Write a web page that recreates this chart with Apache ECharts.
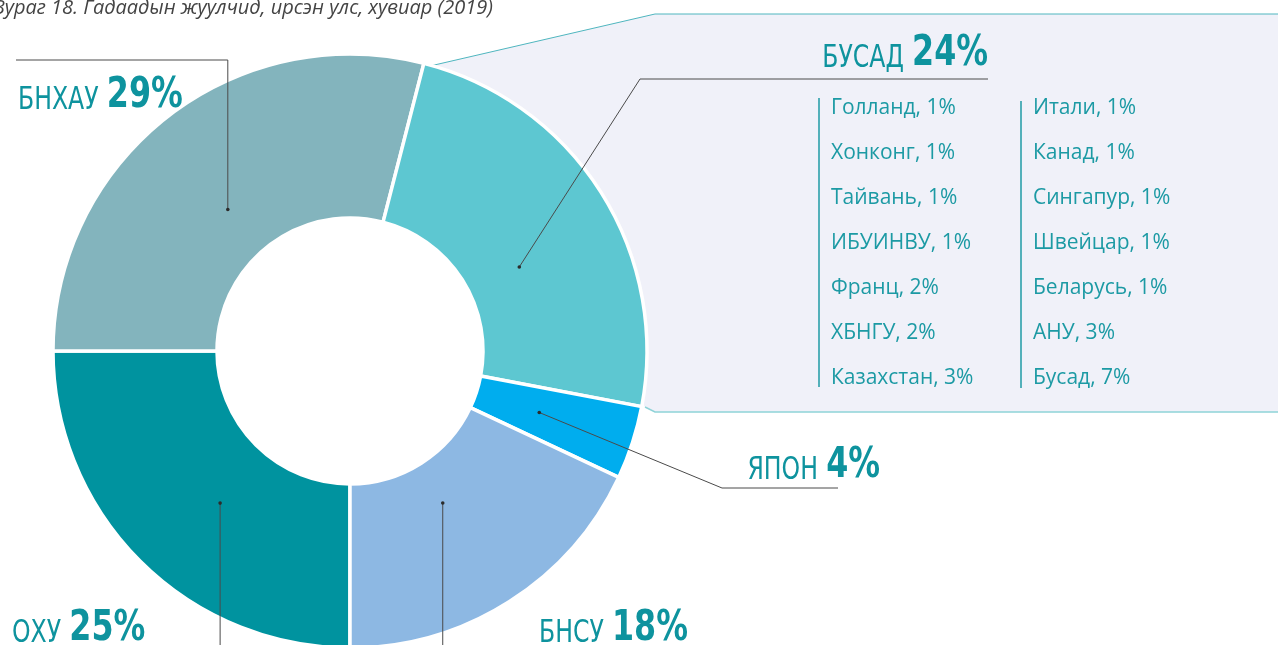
<!DOCTYPE html>
<html>
<head>
<meta charset="utf-8">
<script src="https://cdn.jsdelivr.net/npm/echarts@6/dist/echarts.min.js"></script>
<style>
  html, body { margin: 0; padding: 0; background: #ffffff; }
  #chart { width: 1278px; height: 645px; }
</style>
</head>
<body>
<div id="chart"></div>
<script>
// Foreign visitors by country of origin, 2019 (%)
const categories = ['ОХУ', 'БНХАУ', 'БУСАД', 'ЯПОН', 'БНСУ'];
const shares = [25, 29, 24, 4, 18];
const sliceColors = ['#00939f', '#83b4bd', '#5dc7d1', '#00adee', '#8db8e3'];

// Breakdown of the "other" group
const otherNamesLeft = ['Голланд', 'Хонконг', 'Тайвань', 'ИБУИНВУ', 'Франц', 'ХБНГУ', 'Казахстан'];
const otherSharesLeft = [1, 1, 1, 1, 2, 2, 3];
const otherNamesRight = ['Итали', 'Канад', 'Сингапур', 'Швейцар', 'Беларусь', 'АНУ', 'Бусад'];
const otherSharesRight = [1, 1, 1, 1, 1, 3, 7];

const titleText = 'Зураг 18. Гадаадын жуулчид, ирсэн улс, хувиар (2019)';

// Ring geometry
const CX = 350, CY = 351, R_IN = 133, R_OUT = 297;
const START_FROM_TOP = 180; // first slice starts at 6 o'clock, running clockwise

const LABEL_COLOR = '#0e939e';
const LIST_COLOR = '#1c9aa4';
const LINE_COLOR = '#4a4a4a';
const BIG_FONT = '"DejaVu Sans Condensed", "DejaVu Sans", sans-serif';
const LIST_FONT = '"Open Sans", "Noto Sans", sans-serif';
const CONDENSE = 0.82;

// Callout placement for each slice: anchor (angle offset, radius), label spot and leader route
const callouts = {
  'БНХАУ': { dA: -3, r: 187, x: 18, y: 117, align: 'left', route: a => [a, [a[0], 60], [16, 60]] },
  'БУСАД': { dA: 6, r: 189, x: 988, y: 75, align: 'right', route: a => [a, [640, 79], [988, 79]] },
  'ЯПОН':  { dA: 0, r: 199, x: 880, y: 487, align: 'right', route: a => [a, [722, 488], [838, 488]] },
  'ОХУ':   { dA: -4.5, r: 200, x: 12, y: 650, align: 'left', route: a => [a, [a[0], 700]] },
  'БНСУ':  { dA: 1, r: 178, x: 539, y: 650, align: 'left', route: a => [a, [a[0], 700]] }
};

// Anchor point inside a slice, near its middle angle
function sliceAnchor(i) {
  const spec = callouts[categories[i]];
  const total = shares.reduce((a, b) => a + b, 0);
  let before = 0;
  for (let k = 0; k < i; k++) before += shares[k];
  const mid = (before + shares[i] / 2) / total * 360 + START_FROM_TOP + spec.dA;
  const rad = mid * Math.PI / 180;
  return [CX + spec.r * Math.sin(rad), CY - spec.r * Math.cos(rad)];
}

const graphics = [];

// Callout panel for the "other" group
graphics.push({
  type: 'polygon', z: 0, silent: true,
  shape: { points: [[430, 66], [655, 14], [1280, 14], [1280, 412], [655, 412], [645, 407]] },
  style: { fill: '#f0f1f9' }
});
graphics.push({
  type: 'polyline', z: 1, silent: true,
  shape: { points: [[430, 66], [655, 14], [1280, 14]] },
  style: { stroke: '#4fb6bf', lineWidth: 1, fill: null }
});
graphics.push({
  type: 'polyline', z: 1, silent: true,
  shape: { points: [[645, 407], [655, 412], [1280, 412]] },
  style: { stroke: '#8fd3d8', lineWidth: 1.5, fill: null }
});

// Column separators
graphics.push({ type: 'line', z: 1, silent: true, shape: { x1: 819, y1: 98, x2: 819, y2: 387 }, style: { stroke: '#1f9aa5', lineWidth: 1.5 } });
graphics.push({ type: 'line', z: 1, silent: true, shape: { x1: 1021, y1: 101, x2: 1021, y2: 388 }, style: { stroke: '#1f9aa5', lineWidth: 1.5 } });

function pushList(names, vals, x) {
  names.forEach((n, i) => {
    graphics.push({
      type: 'text', z: 2, silent: true,
      x: x, y: 108 + i * 45,
      style: { text: n + ', ' + vals[i] + '%', fill: LIST_COLOR, font: '21px ' + LIST_FONT, verticalAlign: 'middle', align: 'left' }
    });
  });
}
pushList(otherNamesLeft, otherSharesLeft, 831);
pushList(otherNamesRight, otherSharesRight, 1033);

// Title
graphics.push({
  type: 'text', z: 2, silent: true, x: -6, y: 8,
  style: { text: titleText, fill: '#444444', font: 'italic 20px ' + LIST_FONT, verticalAlign: 'middle', align: 'left' }
});

// Slice labels, leader lines and anchor dots
categories.forEach((c, i) => {
  const spec = callouts[c];
  const a = sliceAnchor(i);
  graphics.push({
    type: 'polyline', zlevel: 1, z: 1, silent: true,
    shape: { points: spec.route(a) },
    style: { stroke: LINE_COLOR, lineWidth: 1, fill: null }
  });
  graphics.push({
    type: 'circle', zlevel: 1, z: 2, silent: true,
    shape: { cx: a[0], cy: a[1], r: 1.8 },
    style: { fill: '#2b2b2b' }
  });
  graphics.push({
    type: 'text', zlevel: 1, z: 3, silent: true,
    x: spec.x, y: spec.y, scaleX: CONDENSE,
    style: {
      text: '{n|' + c + '}{v|' + shares[i] + '%}',
      align: spec.align, verticalAlign: 'bottom',
      rich: {
        n: { fontFamily: BIG_FONT, fontSize: 32, fill: LABEL_COLOR, lineHeight: 44, verticalAlign: 'bottom' },
        v: { fontFamily: BIG_FONT, fontSize: 43, fontWeight: 'bold', fill: LABEL_COLOR, lineHeight: 44, verticalAlign: 'bottom', padding: [0, 0, 0, 10] }
      }
    }
  });
});

const chart = echarts.init(document.getElementById('chart'), null, { renderer: 'canvas' });
chart.setOption({
  animation: false,
  backgroundColor: '#ffffff',
  graphic: { elements: graphics },
  series: [{
    type: 'pie',
    z: 3,
    center: [CX, CY],
    radius: [R_IN, R_OUT],
    startAngle: -90,
    clockwise: true,
    silent: true,
    itemStyle: { borderColor: '#ffffff', borderWidth: 3.5 },
    label: { show: false },
    labelLine: { show: false },
    data: categories.map((c, i) => ({ name: c, value: shares[i], itemStyle: { color: sliceColors[i] } }))
  }]
});
</script>
</body>
</html>
